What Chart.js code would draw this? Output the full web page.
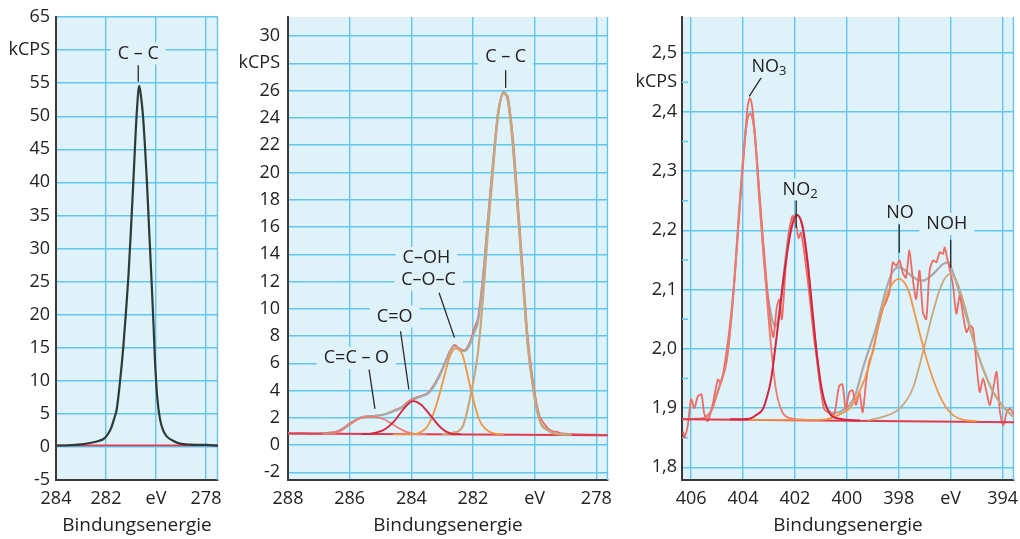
<!DOCTYPE html>
<html>
<head>
<meta charset="utf-8">
<script src="https://cdn.jsdelivr.net/npm/chart.js@4.4.1/dist/chart.umd.min.js"></script>
<style>
  html, body { margin: 0; padding: 0; background: #fff; }
  #wrap { position: relative; width: 1020px; height: 539px; overflow: hidden; }
  canvas { position: absolute; top: 0; }
</style>
</head>
<body>
<div id="wrap">
  <canvas id="c1" width="225" height="539" style="left:0px"></canvas>
  <canvas id="c2" width="385" height="539" style="left:230px"></canvas>
  <canvas id="c3" width="400" height="539" style="left:620px"></canvas>
</div>
<script>
// ---- panel 1: C 1s, single peak  [eV, kCPS]
const p1XTicks = [284, 282, 280, 278];
const p1YTicks = [-5, 0, 5, 10, 15, 20, 25, 30, 35, 40, 45, 50, 55, 60, 65];
const p1Signal = [[284.0,0.2],[283.5,0.25],[283.0,0.4],[282.64,0.6],[282.3,0.9],[282.1,1.2],[281.95,1.8],
  [281.8,2.8],[281.68,4.2],[281.57,5.7],[281.45,9.5],[281.31,15],[281.2,20.5],[281.1,26],[281.0,33],
  [280.9,40.6],[280.77,50.5],[280.67,54.6],[280.6,53],[280.53,50.5],[280.45,46],[280.37,40.6],[280.27,32.5],
  [280.17,24.5],[280.1,18.5],[280.04,13],[279.95,7.5],[279.84,4.2],[279.7,2.4],[279.57,1.6],[279.3,0.9],
  [279.04,0.5],[278.6,0.35],[278.0,0.3],[277.52,0.2]];
const p1Base = [[284,0.22],[277.52,0.22]];

// ---- panel 2: C 1s, fitted components
const p2XTicks = [278, 280, 282, 284, 286, 288];
const p2YTicks = [-2, 0, 2, 4, 6, 8, 10, 12, 14, 16, 18, 20, 22, 24, 26, 28, 30];
const p2Raw = [[288,0.88],[287.8,0.84],[287.5,0.87],[287.2,0.83],[286.9,0.86],[286.6,0.93],[286.38,1.05],
  [286.2,1.25],[286.0,1.6],[285.8,1.85],[285.6,2.05],[285.4,2.12],[285.2,2.15],[285.0,2.2],[284.8,2.3],
  [284.55,2.55],[284.3,2.8],[284.1,3.2],[283.9,3.45],[283.7,3.6],[283.45,3.85],[283.3,4.3],[283.1,5.1],
  [282.9,6.1],[282.75,6.9],[282.6,7.35],[282.45,7.1],[282.3,6.95],[282.2,7.1],[282.06,7.8],[281.95,8.6],
  [281.84,9.3],[281.68,12.3],[281.52,16.5],[281.35,20.8],[281.19,24.4],[281.05,25.8],[281.0,25.9],
  [280.95,25.7],[280.87,25.6],[280.71,22.7],[280.55,18.0],[280.39,13.1],[280.23,8.1],[280.06,4.8],
  [279.85,2.2],[279.6,1.3],[279.4,1.0],[279.3,0.98],[279.1,0.85],[278.8,0.82],[278.5,0.78],[278.0,0.76],[277.62,0.74]];
const p2Fit = [[288,0.86],[287.2,0.85],[286.6,0.9],[286.38,1.0],[286.0,1.55],[285.68,2.0],[285.4,2.1],
  [285.2,2.12],[284.87,2.25],[284.55,2.5],[284.3,2.75],[284.1,3.1],[283.9,3.35],[283.7,3.55],[283.45,3.8],
  [283.3,4.2],[283.1,5.0],[282.9,6.0],[282.75,6.8],[282.6,7.25],[282.45,7.05],[282.3,6.9],[282.2,7.0],
  [282.06,7.6],[281.95,8.3],[281.84,9.0],[281.68,12.0],[281.52,16.3],[281.35,20.5],[281.19,24.2],
  [281.01,25.85],[280.87,25.35],[280.71,22.15],[280.55,17.4],[280.39,12.5],[280.23,7.6],[280.06,4.4],
  [279.85,1.95],[279.53,1.05],[279.2,0.8],[278.5,0.75],[277.62,0.73]];
const p2CCO = [[286.9,0.83],[286.6,0.86],[286.38,0.95],[286.0,1.5],[285.68,1.95],[285.4,2.05],[285.2,2.07],
  [284.87,1.88],[284.55,1.44],[284.22,1.03],[283.9,0.83],[283.5,0.8]];
const p2CO = [[285.6,0.8],[285.3,0.85],[284.87,1.15],[284.55,1.76],[284.22,2.73],[283.95,3.22],[283.69,2.98],
  [283.36,2.12],[283.04,1.27],[282.71,0.85],[282.4,0.8]];
const p2COH = [[284.6,0.79],[283.9,0.8],[283.7,0.95],[283.47,1.39],[283.2,2.85],[282.93,5.05],[282.75,6.5],
  [282.57,7.1],[282.34,6.63],[282.07,4.07],[281.8,1.88],[281.58,1.15],[281.3,0.85],[281.0,0.8]];
const p2CC = [[283.0,0.8],[282.65,0.9],[282.33,1.39],[282.06,3.83],[281.84,6.76],[281.68,10.67],[281.52,15.55],
  [281.35,20.19],[281.19,24.1],[281.01,25.8],[280.87,25.3],[280.71,22.1],[280.55,17.26],[280.39,12.38],
  [280.23,7.5],[280.06,4.33],[279.85,1.88],[279.53,1.02],[279.2,0.78],[278.8,0.76]];
const p2Base = [[288,0.85],[277.62,0.72]];

// ---- panel 3: N 1s
const p3XTicks = [394, 396, 398, 400, 402, 404, 406];
const p3YTicks = [1.8, 1.9, 2.0, 2.1, 2.2, 2.3, 2.4, 2.45, 2.5];
const p3Minor = [1.85, 1.95, 2.05, 2.15, 2.25, 2.35, 2.45];
const p3Raw = [[406.3,1.86],[406.26,1.85],[406.13,1.87],[406.0,1.915],[405.87,1.9],[405.74,1.92],[405.6,1.923],
  [405.5,1.892],[405.36,1.878],[405.17,1.906],[404.97,1.948],[404.85,1.943],[404.72,1.97],[404.53,2.03],
  [404.33,2.117],[404.14,2.23],[403.95,2.34],[403.82,2.41],[403.73,2.423],[403.63,2.403],[403.5,2.34],
  [403.31,2.23],[403.12,2.128],[402.96,2.05],[402.83,2.02],[402.7,2.07],[402.6,2.083],[402.5,2.05],
  [402.35,2.14],[402.22,2.195],[402.1,2.224],[401.96,2.21],[401.86,2.187],[401.77,2.196],[401.64,2.162],
  [401.45,2.094],[401.26,2.016],[401.13,1.976],[401.0,1.93],[400.87,1.898],[400.68,1.892],[400.49,1.889],
  [400.3,1.937],[400.17,1.94],[400.04,1.898],[399.91,1.926],[399.78,1.93],[399.65,1.905],[399.52,1.927],
  [399.39,1.893],[399.26,1.944],[399.14,1.978],[399.0,1.994],[398.81,2.034],[398.62,2.067],[398.49,2.079],
  [398.36,2.096],[398.23,2.146],[398.1,2.14],[397.97,2.149],[397.85,2.129],[397.72,2.12],[397.59,2.166],
  [397.46,2.118],[397.33,2.084],[397.2,2.132],[397.07,2.062],[396.94,2.05],[396.81,2.132],[396.68,2.149],
  [396.55,2.146],[396.42,2.163],[396.3,2.16],[396.23,2.171],[396.14,2.154],[396.04,2.135],[395.91,2.107],
  [395.78,2.059],[395.65,2.09],[395.52,2.056],[395.39,2.028],[395.26,2.039],[395.14,2.034],[395.0,1.972],
  [394.88,1.927],[394.75,1.95],[394.62,1.927],[394.49,1.905],[394.36,1.933],[394.23,1.961],[394.1,1.893],
  [393.97,1.871],[393.84,1.893],[393.71,1.899],[393.58,1.89]];
const p3Fit = [[405.46,1.884],[405.2,1.898],[405.04,1.92],[404.85,1.945],[404.65,1.976],[404.5,2.03],
  [404.33,2.117],[404.2,2.2],[404.08,2.274],[403.88,2.375],[403.73,2.398],[403.56,2.37],[403.37,2.257],
  [403.12,2.117],[402.88,2.05],[402.76,2.038],[402.6,2.06],[402.41,2.134],[402.22,2.2],[401.95,2.227],
  [401.71,2.208],[401.51,2.146],[401.32,2.062],[401.19,2.0],[401.0,1.93],[400.81,1.905],[400.55,1.892],
  [400.3,1.893],[400.1,1.898],[399.9,1.905],[399.65,1.925],[399.39,1.966],[399.14,2.0],[398.88,2.034],
  [398.49,2.1],[398.23,2.13],[397.97,2.138],[397.59,2.126],[397.3,2.117],[397.07,2.115],[396.68,2.126],
  [396.3,2.143],[396.1,2.146],[395.91,2.129],[395.52,2.073],[395.14,2.017],[394.75,1.966],[394.36,1.927],
  [393.97,1.902],[393.58,1.885]];
const p3NO3 = [[406.35,1.881],[405.8,1.882],[405.46,1.884],[405.2,1.896],[405.04,1.918],[404.85,1.943],
  [404.65,1.974],[404.5,2.028],[404.33,2.115],[404.2,2.197],[404.08,2.27],[403.88,2.372],[403.73,2.396],
  [403.56,2.366],[403.37,2.25],[403.12,2.108],[402.92,2.004],[402.73,1.931],[402.47,1.892],[402.09,1.882],[401.5,1.88]];
const p3NO2 = [[404.5,1.881],[403.76,1.882],[403.5,1.888],[403.24,1.898],[403.1,1.915],[402.92,1.948],
  [402.67,2.033],[402.41,2.128],[402.15,2.2],[401.92,2.226],[401.71,2.207],[401.51,2.145],[401.32,2.061],
  [401.13,1.982],[400.94,1.926],[400.68,1.892],[400.29,1.882],[399.5,1.879]];
const p3NO = [[403.8,1.88],[401.5,1.88],[400.8,1.881],[400.5,1.885],[400.2,1.891],[399.9,1.899],[399.52,1.927],
  [399.14,1.972],[398.75,2.045],[398.36,2.101],[398.0,2.118],[397.65,2.101],[397.33,2.05],[397.0,1.994],
  [396.68,1.949],[396.3,1.91],[395.91,1.888],[395.39,1.879],[395.0,1.878]];
const p3NOH = [[399.2,1.879],[398.62,1.885],[397.97,1.899],[397.46,1.933],[397.07,1.994],[396.68,2.062],
  [396.36,2.107],[396.04,2.126],[395.78,2.115],[395.46,2.073],[395.14,2.017],[394.75,1.966],[394.36,1.927],
  [393.97,1.902],[393.58,1.885]];
const p3Base = [[406.35,1.881],[393.56,1.876]];

const FONT = "'Open Sans', 'Noto Sans', sans-serif";
const TEXT = "#222222";
const GRID = "#62c6ee";
const PLOT_BG = "#dff2fa";
const AXIS = "#3a3a3a";

Chart.defaults.font.family = FONT;

const toXY = arr => arr.map(p => ({ x: p[0], y: p[1] }));

function curve(data, color, width, smooth) {
  return {
    data: toXY(data),
    borderColor: color,
    borderWidth: width,
    pointRadius: 0,
    fill: false,
    tension: smooth ? 0.4 : 0.25,
    cubicInterpolationMode: smooth ? "monotone" : "default",
  };
}

function drawLabel(ctx, cx, cy, parts) {
  const main = "18px " + FONT, sub = "13px " + FONT;
  let w = 0;
  parts.forEach(p => { ctx.font = p[1] ? sub : main; w += ctx.measureText(p[0]).width; });
  ctx.fillStyle = PLOT_BG;
  ctx.fillRect(cx - w / 2 - 7, cy - 11, w + 14, 22);
  ctx.fillStyle = TEXT;
  ctx.textBaseline = "middle";
  ctx.textAlign = "left";
  let x = cx - w / 2;
  parts.forEach(p => {
    ctx.font = p[1] ? sub : main;
    ctx.fillText(p[0], x, p[1] ? cy + 5 : cy);
    x += ctx.measureText(p[0]).width;
  });
}

const peakLabels = {
  id: "peakLabels",
  beforeDraw(chart) {
    const { ctx, chartArea: a } = chart;
    ctx.save();
    ctx.fillStyle = PLOT_BG;
    ctx.fillRect(a.left, a.top, a.right - a.left, a.bottom - a.top);
    ctx.restore();
  },
  beforeDatasetsDraw(chart, args, opts) {
    const { ctx, chartArea: a, scales: { y } } = chart;
    ctx.save();
    ctx.strokeStyle = GRID;
    ctx.lineWidth = 1.4;
    ctx.beginPath();
    ctx.moveTo(a.right - 0.5, a.top);
    ctx.lineTo(a.right - 0.5, a.bottom);
    (opts.minor || []).forEach(v => {
      const py = y.getPixelForValue(v);
      ctx.moveTo(a.left, py);
      ctx.lineTo(a.left + 6, py);
    });
    ctx.stroke();
    ctx.restore();
  },
  afterDatasetsDraw(chart, args, opts) {
    const { ctx, scales: { x, y } } = chart;
    ctx.save();
    ctx.strokeStyle = "#2a2a2a";
    ctx.lineWidth = 1.3;
    (opts.lines || []).forEach(l => {
      ctx.beginPath();
      ctx.moveTo(x.getPixelForValue(l[0]), y.getPixelForValue(l[1]));
      ctx.lineTo(x.getPixelForValue(l[2]), y.getPixelForValue(l[3]));
      ctx.stroke();
    });
    (opts.labels || []).forEach(lb => {
      drawLabel(ctx, x.getPixelForValue(lb.x), y.getPixelForValue(lb.y), lb.parts);
    });
    ctx.restore();
  },
};

function renderPanel(id, o) {
  new Chart(document.getElementById(id), {
    type: "line",
    data: { datasets: o.datasets },
    options: {
      responsive: false,
      animation: false,
      layout: { padding: { top: 17, right: o.padRight, left: 0, bottom: 0 } },
      plugins: {
        legend: { display: false },
        tooltip: { enabled: false },
        peakLabels: { labels: o.labels, lines: o.lines, minor: o.minor },
      },
      scales: {
        x: {
          type: "linear",
          reverse: true,
          min: o.xMin,
          max: o.xMax,
          afterBuildTicks: s => { s.ticks = o.xTicks.map(v => ({ value: v })); },
          afterFit: s => { s.height = 59; s.paddingLeft = 0; s.paddingRight = 0; },
          ticks: {
            callback: v => (v === o.eVAt ? "eV" : String(v)),
            font: { size: 18 },
            color: TEXT,
            padding: 8,
            maxRotation: 0,
            autoSkip: false,
          },
          grid: { color: GRID, lineWidth: 1.4, drawTicks: false },
          border: { color: AXIS, width: 2 },
          title: {
            display: true,
            text: "Bindungsenergie",
            font: { size: 19 },
            color: TEXT,
            padding: { top: 0, bottom: 2 },
          },
        },
        y: {
          type: "linear",
          min: o.yMin,
          max: o.yMax,
          afterBuildTicks: s => { s.ticks = o.yTicks.map(v => ({ value: v })); },
          afterFit: s => { s.width = o.yWidth; s.paddingTop = 0; s.paddingBottom = 0; },
          ticks: {
            callback: v => (v === o.unitAt ? "kCPS" : o.fmt(v)),
            font: { size: 18 },
            color: TEXT,
            padding: o.yPad,
            autoSkip: false,
          },
          grid: {
            color: c => (c.tick && o.noGrid.includes(c.tick.value) ? "rgba(0,0,0,0)" : GRID),
            lineWidth: 1.4,
            drawTicks: false,
          },
          border: { color: AXIS, width: 2 },
        },
      },
    },
    plugins: [peakLabels],
  });
}

renderPanel("c1", {
  xMin: 277.52, xMax: 284, yMin: -5, yMax: 65,
  xTicks: p1XTicks, yTicks: p1YTicks, eVAt: 280, unitAt: 60, noGrid: [],
  fmt: v => String(v), yWidth: 56, yPad: 6, padRight: 7,
  datasets: [
    curve(p1Signal, "#2c3b36", 2.2, true),
    curve(p1Base, "#e23a4e", 1.8, true),
  ],
  labels: [{ x: 280.71, y: 59.5, parts: [["C \u2013 C", false]] }],
  lines: [[280.71, 57.7, 280.71, 55.2]],
});

renderPanel("c2", {
  xMin: 277.62, xMax: 288, yMin: -2.56, yMax: 31.4,
  xTicks: p2XTicks, yTicks: p2YTicks, eVAt: 280, unitAt: 28, noGrid: [],
  fmt: v => String(v), yWidth: 58, yPad: 8, padRight: 7,
  datasets: [
    curve(p2CO, "#d9223d", 1.8, true),
    curve(p2COH, "#f39440", 1.8, true),
    curve(p2CC, "#c9a77c", 2.2, true),
    curve(p2CCO, "#ec7d72", 1.8, true),
    curve(p2Base, "#e23a4e", 2, true),
    curve(p2Fit, "#a9a9a9", 2.2, true),
    curve(p2Raw, "#ee6a62", 1.8, false),
  ],
  labels: [
    { x: 280.94, y: 28.45, parts: [["C \u2013 C", false]] },
    { x: 283.51, y: 13.72, parts: [["C\u2013OH", false]] },
    { x: 283.44, y: 12.13, parts: [["C\u2013O\u2013C", false]] },
    { x: 284.54, y: 9.44, parts: [["C=O", false]] },
    { x: 285.78, y: 6.4, parts: [["C=C \u2013 O", false]] },
  ],
  lines: [
    [280.94, 27.5, 280.94, 26.2],
    [283.1, 11.18, 282.6, 7.88],
    [284.35, 8.35, 284.08, 4.08],
    [285.37, 5.54, 285.18, 2.66],
  ],
});

renderPanel("c3", {
  xMin: 393.56, xMax: 406.35, yMin: 1.7786, yMax: 2.56,
  xTicks: p3XTicks, yTicks: p3YTicks, eVAt: 396, unitAt: 2.45, noGrid: [2.45],
  fmt: v => v.toFixed(1).replace(".", ","), yWidth: 62, yPad: 5, padRight: 6,
  minor: p3Minor,
  datasets: [
    curve(p3NO2, "#d9223d", 2, true),
    curve(p3NO, "#f39440", 1.8, true),
    curve(p3NOH, "#c9a77c", 1.8, true),
    curve(p3Base, "#e23a4e", 2, true),
    curve(p3NO3, "#ee7a70", 1.8, true),
    curve(p3Raw, "#ee6a62", 1.8, false),
    curve(p3Fit, "#a9a9a9", 2.2, true),
  ],
  labels: [
    { x: 403.0, y: 2.476, parts: [["NO", false], ["3", true]] },
    { x: 401.8, y: 2.269, parts: [["NO", false], ["2", true]] },
    { x: 397.95, y: 2.23, parts: [["NO", false]] },
    { x: 396.15, y: 2.211, parts: [["NOH", false]] },
  ],
  lines: [
    [403.28, 2.459, 403.76, 2.426],
    [401.95, 2.255, 401.95, 2.204],
    [397.98, 2.21, 397.98, 2.162],
    [396.0, 2.184, 396.0, 2.137],
  ],
});
</script>
</body>
</html>
